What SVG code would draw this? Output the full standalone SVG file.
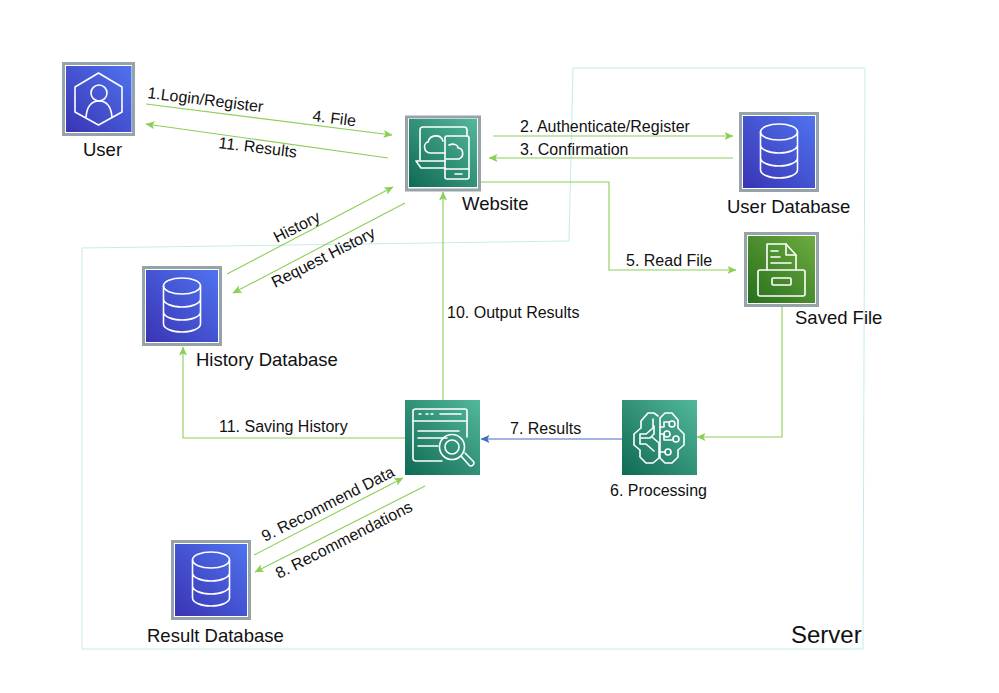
<svg xmlns="http://www.w3.org/2000/svg" width="999" height="693" viewBox="0 0 999 693">
<style>
text{font-family:"Liberation Sans",Arial,sans-serif;fill:#111}
.n{font-size:18.500px}
.e{font-size:16px}
.c{fill:none;stroke:#8ccf55;stroke-width:1.100}
.b{fill:none;stroke:#3f6fc4;stroke-width:1.100}
.f{fill:none;stroke:#97a3aa;stroke-width:3}
.i{fill:none;stroke:#fff;stroke-width:1.600;stroke-linejoin:round;stroke-linecap:round}
</style>
<defs>
<linearGradient id="gb" x1="0" y1="1" x2="1" y2="0"><stop offset="0" stop-color="#3a34b4"/><stop offset="1" stop-color="#4f73ef"/></linearGradient>
<linearGradient id="gt" x1="0" y1="1" x2="1" y2="0"><stop offset="0" stop-color="#0f6a53"/><stop offset="1" stop-color="#53b89b"/></linearGradient>
<linearGradient id="gg" x1="0" y1="1" x2="1" y2="0"><stop offset="0" stop-color="#286f1c"/><stop offset="1" stop-color="#6cab3f"/></linearGradient>
<marker id="ag" markerWidth="10" markerHeight="10" refX="8.500" refY="4" orient="auto" markerUnits="userSpaceOnUse"><path d="M0 0L9 4L0 8L2 4Z" fill="#8ccf55"/></marker>
<marker id="ab" markerWidth="10" markerHeight="10" refX="8.500" refY="4" orient="auto" markerUnits="userSpaceOnUse"><path d="M0 0L9 4L0 8L2 4Z" fill="#3f6fc4"/></marker>
<g id="db">
<rect x="0" y="0" width="80" height="80" fill="#fff"/>
<rect x="1.500" y="1.500" width="77" height="77" class="f"/>
<rect x="4" y="4" width="72" height="72" fill="url(#gb)"/>
<g class="i" transform="translate(21 12)">
<ellipse cx="19" cy="8" rx="18.500" ry="8"/>
<path d="M.5 8V46C.5 50 8 54 19 54S37.500 50 37.500 46V8M.5 21C.5 25 8 29 19 29S37.500 25 37.500 21M.5 34C.5 38 8 42 19 42S37.500 38 37.500 34"/>
</g>
</g>
</defs>

<path id="server-boundary" d="M573 68L865 68L863 649L82 649L82 248L569 241Z" fill="none" stroke="#c4ecec" stroke-width="1"/>
<text x="791" y="643" font-size="24">Server</text>

<g id="connectors">
<path class="c" marker-end="url(#ag)" d="M146 104L392 135"/>
<path class="c" marker-end="url(#ag)" d="M388 158L146 124"/>
<path class="c" marker-end="url(#ag)" d="M493 136H733"/>
<path class="c" marker-end="url(#ag)" d="M733 158H489"/>
<path class="c" marker-end="url(#ag)" d="M481 182H609V270H736"/>
<path class="c" marker-end="url(#ag)" d="M227 274L393 187"/>
<path class="c" marker-end="url(#ag)" d="M405 203L233 293"/>
<path class="c" marker-end="url(#ag)" d="M443 400V192"/>
<path class="c" marker-end="url(#ag)" d="M405 438H183V347"/>
<path class="c" marker-end="url(#ag)" d="M782 307V437H697"/>
<path class="b" marker-end="url(#ab)" d="M622 439H481"/>
<path class="c" marker-end="url(#ag)" d="M254 555L403 478"/>
<path class="c" marker-end="url(#ag)" d="M425 486L255 572"/>
</g>

<g id="edge-labels">
<text class="e" transform="translate(147 98) rotate(7)">1.Login/Register</text>
<text class="e" transform="translate(312 121) rotate(7)">4. File</text>
<text class="e" transform="translate(218 148) rotate(7)">11. Results</text>
<text class="e" x="520" y="132">2. Authenticate/Register</text>
<text class="e" x="520" y="155">3. Confirmation</text>
<text class="e" x="626" y="266">5. Read File</text>
<text class="e" transform="translate(277 243) rotate(-27)">History</text>
<text class="e" transform="translate(275 288) rotate(-27)">Request History</text>
<text class="e" x="447" y="318">10. Output Results</text>
<text class="e" x="219" y="432">11. Saving History</text>
<text class="e" x="510" y="434">7. Results</text>
<text class="e" transform="translate(265 542) rotate(-27)">9. Recommend Data</text>
<text class="e" transform="translate(279 579) rotate(-27)">8. Recommendations</text>
</g>

<g id="user">
<rect x="63.500" y="63.500" width="70" height="71" fill="#fff" stroke="#97a3aa" stroke-width="3"/>
<rect x="66" y="66" width="65.500" height="66" fill="url(#gb)"/>
<g class="i">
<path d="M98.500 73L122 87V112L98.500 125L75 112V87Z"/>
<circle cx="99" cy="93" r="8"/>
<path d="M86 117C87 106 92 101 99 101S111 106 112 117"/>
</g>
<text class="n" x="83" y="156">User</text>
</g>

<g id="website">
<rect x="406.500" y="117" width="73" height="73" fill="#fff" stroke="#97a3aa" stroke-width="3"/>
<rect x="409" y="119" width="68" height="68" fill="url(#gt)"/>
<g class="i">
<path d="M420 160V130Q420 127 423 127H464Q467 127 467 130V136"/>
<path d="M416 161L421 168H445M416 161H445"/>
<rect x="445" y="136" width="24" height="43" rx="2"/>
<path d="M445 169H469M455 174H462"/>
<path d="M445 153H431C423 153 423 143 428 142C430 134 441 134 443 141"/>
<path d="M449 145C454 143 458 145 458 148C463 148 465 156 459 159H446"/>
</g>
<text class="n" x="462" y="210">Website</text>
</g>

<g id="user-database">
<use href="#db" x="739" y="112"/>
<text class="n" x="727" y="213">User Database</text>
</g>

<g id="saved-file">
<rect x="745.500" y="233.500" width="72" height="72" fill="#fff" stroke="#97a3aa" stroke-width="3"/>
<rect x="748" y="236" width="67" height="67" fill="url(#gg)"/>
<g class="i">
<path d="M767 270V244H786L796 255V270"/>
<path d="M786 244V255H796"/>
<path d="M771 251H778M771 257H780M771 263H791"/>
<rect x="758" y="270" width="47" height="26" rx="2"/>
<rect x="772" y="278" width="19" height="7" rx="1"/>
</g>
<text class="n" x="795" y="324">Saved File</text>
</g>

<g id="history-database">
<use href="#db" x="142" y="266"/>
<text class="n" x="196" y="366">History Database</text>
</g>

<g id="result-database">
<use href="#db" x="171" y="540"/>
<text class="n" x="147" y="642">Result Database</text>
</g>

<g id="analysis">
<rect x="405" y="400" width="75" height="75" fill="url(#gt)"/>
<g class="i">
<path d="M442 461H416Q413 461 413 458V411Q413 409 416 409H465Q467 409 467 411V437"/>
<path d="M413 421H467"/>
<path d="M419 414H421M426 414H428M431 414H433M440 414H461"/>
<path d="M418 431H459M418 438H447M418 446H438"/>
<circle cx="452" cy="447" r="12.500"/>
<circle cx="452" cy="447" r="7"/>
<path d="M461 456L469 465Q471 467 473 465Q475 463 473 461L465 453"/>
</g>
</g>

<g id="processing">
<rect x="622" y="400" width="75" height="75" fill="url(#gt)"/>
<g class="i">
<path d="M658 416L654 413H648L641 421V428L634 434V445L640 450V457L646 463H653L659 458V443L652 437"/>
<path d="M660 418L665 413H672L678 420V428L684 434V445L678 450V457L672 463H665L660 458V418"/>
<path d="M653 419V428L646 434H640V444L646 444L654 451"/>
<path d="M641 438H650L654 434V426"/>
<path d="M660 427H664V422H669M660 434H664M660 452H665M664 434V440H673"/>
<circle cx="672" cy="424" r="3"/>
<circle cx="667" cy="434" r="3"/>
<circle cx="676" cy="439" r="3"/>
<circle cx="668" cy="452" r="3"/>
</g>
<text class="e" x="610" y="496">6. Processing</text>
</g>
</svg>
